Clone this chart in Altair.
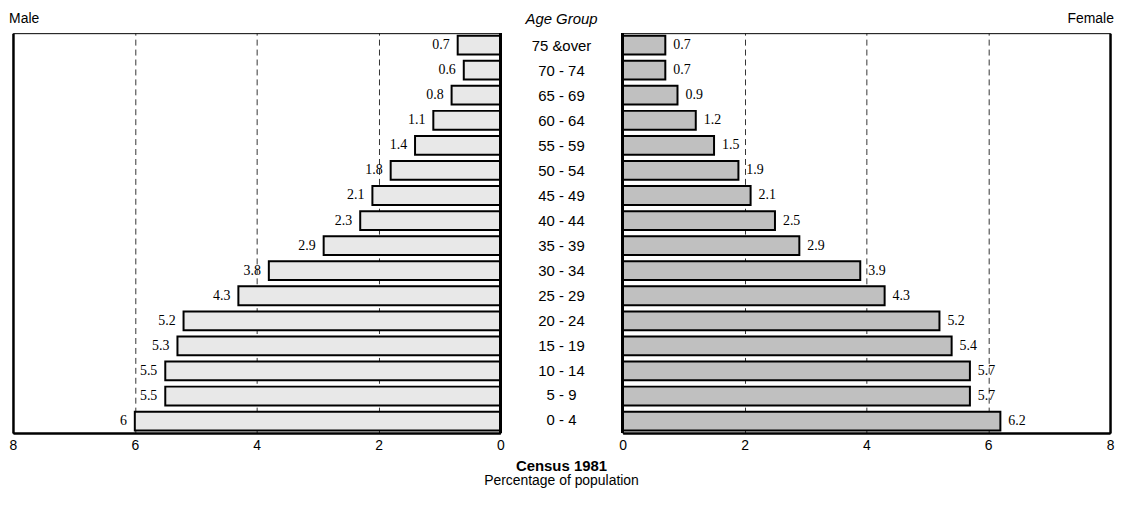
import altair as alt
import pandas as pd

ages = ["75 &over", "70 - 74", "65 - 69", "60 - 64", "55 - 59", "50 - 54", "45 - 49",
        "40 - 44", "35 - 39", "30 - 34", "25 - 29", "20 - 24", "15 - 19", "10 - 14",
        "5 - 9", "0 - 4"]
male = [0.7, 0.6, 0.8, 1.1, 1.4, 1.8, 2.1, 2.3, 2.9, 3.8, 4.3, 5.2, 5.3, 5.5, 5.5, 6.0]
female = [0.7, 0.7, 0.9, 1.2, 1.5, 1.9, 2.1, 2.5, 2.9, 3.9, 4.3, 5.2, 5.4, 5.7, 5.7, 6.2]
x_ticks = [0, 2, 4, 6, 8]

df = pd.DataFrame({"age": ages, "male": male, "female": female,
                   "male_lbl": [f"{v:g}" for v in male],
                   "female_lbl": [f"{v:g}" for v in female]})

H = 402
SANS = "Liberation Sans"
SERIF = "Liberation Serif"

yscale = alt.Scale(domain=ages, paddingInner=0.25, paddingOuter=0.1)


def panel(col, lbl, reverse, fill, title, anchor):
    xsc = alt.Scale(domain=[0, 8], reverse=reverse, nice=False)
    xax = alt.Axis(values=x_ticks, format="d", grid=True, gridDash=[6, 4],
                   gridColor="black", gridWidth=0.8, ticks=False,
                   domainColor="black", domainWidth=2.5,
                   labelFont=SANS, labelFontSize=14, labelColor="black",
                   labelPadding=6, title=None, labelFlush=False)
    yax = alt.Axis(labels=False, ticks=False, title=None, grid=False,
                   domainColor="black", domainWidth=2.5,
                   orient="left" if reverse else "right")
    base = alt.Chart(df)
    bars = base.mark_bar(fill=fill, stroke="black", strokeWidth=2).encode(
        x=alt.X(f"{col}:Q", scale=xsc, axis=xax),
        y=alt.Y("age:N", sort=ages, scale=yscale, axis=yax),
    )
    zero = base.mark_rule(color="black", strokeWidth=2.5).encode(
        x=alt.datum(0), y=alt.value(0), y2=alt.value(H))
    txt = base.mark_text(font=SERIF, fontSize=14, color="black",
                         align="right" if reverse else "left",
                         dx=-8 if reverse else 8).encode(
        x=alt.X(f"{col}:Q", scale=xsc),
        y=alt.Y("age:N", sort=ages, scale=yscale),
        text=f"{lbl}:N",
    )
    return alt.layer(bars, zero, txt).properties(
        width=490, height=H,
        title=alt.TitleParams(title, anchor=anchor, font=SANS, fontSize=14,
                              fontWeight="normal", color="black", offset=6),
    )


left = panel("male", "male_lbl", True, "#e8e8e8", "Male", "start")
right = panel("female", "female_lbl", False, "#c0c0c0", "Female", "end")

mid = alt.Chart(df).mark_text(font=SANS, fontSize=15, color="black").encode(
    y=alt.Y("age:N", sort=ages, scale=yscale, axis=None),
    text="age:N",
).properties(
    width=111, height=H,
    view=alt.ViewBackground(stroke="transparent"),
    title=alt.TitleParams("Age Group", anchor="middle", font=SANS, fontSize=15,
                          fontStyle="italic", fontWeight="normal", color="black",
                          offset=6),
)

chart = alt.hconcat(left, mid, right, spacing=0).properties(
    padding={"left": 0, "right": 0, "top": 2, "bottom": 0},
    title=alt.TitleParams("Census 1981", subtitle="Percentage of population",
                          orient="bottom", anchor="middle", font=SANS, fontSize=15,
                          fontWeight="bold", color="black", subtitleFont=SANS,
                          subtitleFontSize=14, subtitleColor="black",
                          subtitlePadding=0, offset=6),
).configure_view(stroke="black", strokeWidth=1).configure_concat(spacing=0)

chart.save("out.html", embed_options={"renderer": "svg", "actions": False})
